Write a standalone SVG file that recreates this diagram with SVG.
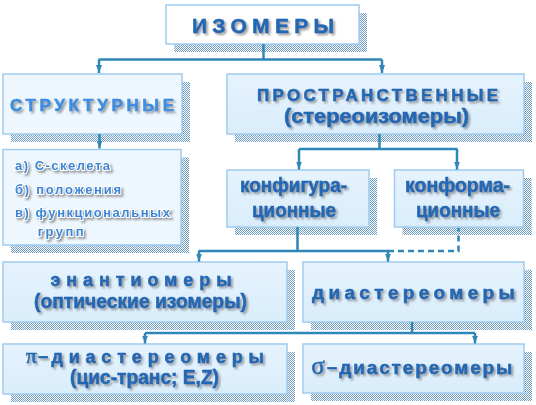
<svg xmlns="http://www.w3.org/2000/svg" width="536" height="405" viewBox="0 0 536 405">
<defs>
<pattern id="dots" width="2" height="2" patternUnits="userSpaceOnUse"><rect width="2" height="2" fill="#ffffff"/><rect width="1" height="1" fill="#6f9cc4"/><rect x="1" y="1" width="1" height="1" fill="#6f9cc4"/></pattern>
<filter id="ts" x="-10%" y="-40%" width="125%" height="190%"><feDropShadow dx="2" dy="2" stdDeviation="1.3" flood-color="#606060" flood-opacity="0.6"/></filter>
<linearGradient id="gb" x1="0" y1="0" x2="0" y2="1"><stop offset="0" stop-color="#e6f3fd"/><stop offset="1" stop-color="#d9edfb"/></linearGradient>
<marker id="ar" viewBox="0 0 8 6" refX="8" refY="3" markerWidth="3.2" markerHeight="2.8" orient="auto" markerUnits="strokeWidth"><path d="M0,0 L8,3 L0,6 z" fill="#2f87b9"/></marker>
</defs>
<style>
.sh{fill:url(#dots)}
.bx{fill:url(#gb);stroke:#9fcbee;stroke-width:1.5}
.lt{fill:#eef7fe;stroke:#9fcbee;stroke-width:1.5}
.wh{fill:#ffffff;stroke:#9fcbee;stroke-width:1.5}
.t{font-family:"Liberation Sans",Arial,sans-serif;font-weight:bold;fill:#2267b3;stroke:#2267b3;stroke-width:0.5;filter:url(#ts);text-anchor:middle}
.tl{fill:#3d8ee0;stroke:#3d8ee0}
.li{font-family:"Liberation Sans",Arial,sans-serif;font-weight:bold;font-size:13px;fill:#3b86d8;stroke:#ffffff;stroke-width:2;paint-order:stroke;filter:url(#ts)}
.gr{font-family:"Liberation Serif","Times New Roman",serif;font-weight:normal}
.c{fill:none;stroke:#2f87b9;stroke-width:2.5}
.ca{marker-end:url(#ar)}
.d{stroke-dasharray:6 4}
</style>
<rect width="536" height="405" fill="#ffffff"/>

<g id="n-izomery">
<rect class="sh" x="174" y="13" width="193" height="39"/>
<rect class="wh" x="166" y="5" width="193" height="39"/>
<text class="t" x="263" y="33" font-size="21" textLength="142" lengthAdjust="spacing">ИЗОМЕРЫ</text>
</g>

<g id="n-struct">
<rect class="sh" x="11" y="82" width="179" height="60"/>
<rect class="lt" x="3" y="74" width="179" height="60"/>
<text class="t tl" x="92" y="111" font-size="17" textLength="164" lengthAdjust="spacing">СТРУКТУРНЫЕ</text>
</g>

<g id="n-prostr">
<rect class="sh" x="235" y="82" width="297" height="60"/>
<rect class="bx" x="227" y="74" width="297" height="60"/>
<text class="t" x="377.5" y="101" font-size="17" textLength="241" lengthAdjust="spacing">ПРОСТРАНСТВЕННЫЕ</text>
<text class="t" x="376.5" y="123" font-size="20" textLength="185" lengthAdjust="spacingAndGlyphs">(стереоизомеры)</text>
</g>

<g id="n-list">
<rect class="sh" x="11" y="157.5" width="178" height="95.5"/>
<rect class="lt" x="3" y="149.5" width="178" height="95.5"/>
<text class="li" x="15" y="170" textLength="95" lengthAdjust="spacing">а) С-скелета</text>
<text class="li" x="15" y="193.5" textLength="106" lengthAdjust="spacing">б) положения</text>
<text class="li" x="15" y="216.5" textLength="155" lengthAdjust="spacing">в) функциональных</text>
<text class="li" x="37.7" y="235.5" textLength="46" lengthAdjust="spacing">групп</text>
</g>

<g id="n-config">
<rect class="sh" x="235" y="178" width="142" height="57"/>
<rect class="bx" x="227" y="170" width="142" height="57"/>
<text class="t" x="293.5" y="191.5" font-size="21" textLength="107" lengthAdjust="spacingAndGlyphs">конфигура-</text>
<text class="t" x="294" y="216.5" font-size="21" textLength="84" lengthAdjust="spacingAndGlyphs">ционные</text>
</g>

<g id="n-conform">
<rect class="sh" x="402.5" y="178" width="129" height="57"/>
<rect class="bx" x="394.5" y="170" width="129" height="57"/>
<text class="t" x="457.5" y="191.5" font-size="21" textLength="105" lengthAdjust="spacingAndGlyphs">конформа-</text>
<text class="t" x="458" y="216.5" font-size="21" textLength="84" lengthAdjust="spacingAndGlyphs">ционные</text>
</g>

<g id="n-enant">
<rect class="sh" x="11" y="270" width="284" height="60"/>
<rect class="bx" x="3" y="262" width="284" height="60"/>
<text class="t" x="141" y="286" font-size="18" textLength="181" lengthAdjust="spacing">энантиомеры</text>
<text class="t" x="140.5" y="308" font-size="20" textLength="213" lengthAdjust="spacingAndGlyphs">(оптические изомеры)</text>
</g>

<g id="n-diast">
<rect class="sh" x="311" y="270" width="221" height="60"/>
<rect class="bx" x="303" y="262" width="221" height="60"/>
<text class="t" x="413.4" y="299" font-size="19" textLength="202.7" lengthAdjust="spacing">диастереомеры</text>
</g>

<g id="n-pi">
<rect class="sh" x="11" y="352" width="284" height="50"/>
<rect class="bx" x="3" y="344" width="284" height="50"/>
<text class="t" x="31.2" y="363" font-size="22"><tspan class="gr">π</tspan></text>
<text class="t" x="43.2" y="362" font-size="18">–</text>
<text class="t" x="157.7" y="363" font-size="18" textLength="212.6" lengthAdjust="spacing">диастереомеры</text>
<text class="t" x="144.5" y="383.5" font-size="20" textLength="149" lengthAdjust="spacingAndGlyphs">(цис-транс; E,Z)</text>
</g>

<g id="n-sigma">
<rect class="sh" x="311" y="352" width="221" height="49"/>
<rect class="bx" x="303" y="344" width="221" height="49"/>
<text class="t" x="318" y="373.5" font-size="25"><tspan class="gr">σ</tspan></text>
<text class="t" x="332" y="372.5" font-size="18">–</text>
<text class="t" x="425.8" y="373.5" font-size="19" textLength="173" lengthAdjust="spacing">диастереомеры</text>
</g>

<g id="connectors">
<path class="c" d="M263.5,44 V59.5 M98.5,59.5 H382"/>
<path class="c ca" d="M99,59.5 V73"/>
<path class="c ca" d="M382,59.5 V73"/>
<path class="c ca" d="M99.5,134 V148.5"/>
<path class="c" d="M379.5,134 V149 M299,149 H457.5"/>
<path class="c ca" d="M299,149 V169.5"/>
<path class="c ca" d="M457,149 V169.5"/>
<path class="c" d="M297.5,227 V251 M198.5,251 H388"/>
<path class="c d" d="M388,251 H458.5 V228"/>
<path class="c ca" d="M199,251 V261.5"/>
<path class="c ca" d="M388,251 V261.5"/>
<path class="c" d="M412,322 V333 M145,333 H475"/>
<path class="c ca" d="M145,333 V343.5"/>
<path class="c ca" d="M475,333 V343.5"/>
</g>
</svg>
